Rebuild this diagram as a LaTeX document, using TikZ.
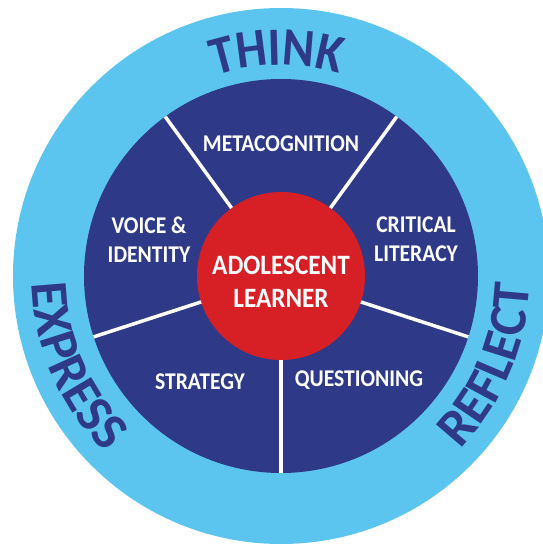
\documentclass[tikz,border=0pt]{standalone}
\usepackage{fontspec}
\setmainfont{Carlito}
\newfontfamily\condfont{Carlito}[FakeStretch=0.9]
\usetikzlibrary{decorations.text}
\definecolor{ringblue}{HTML}{5BC5F0}
\definecolor{navy}{HTML}{2E3A87}
\definecolor{redcore}{HTML}{D71F26}
\newcommand\thinkfont{\condfont\bfseries\fontsize{54}{54}\selectfont}
\newcommand\sidewordfont{\bfseries\fontsize{53}{53}\selectfont}
\begin{document}
\begin{tikzpicture}[x=1pt,y=1pt,
  disc/.style={circle,inner sep=0pt,outer sep=0pt,draw=none},
  spoke/.style={draw=white,line width=3.5pt},
  topic/.style={text=white,align=center,inner sep=0pt,
    font=\condfont\bfseries\fontsize{24}{29}\selectfont},
  hub/.style={text=white,align=center,inner sep=0pt,
    font=\condfont\bfseries\fontsize{28}{33}\selectfont},
  ringword/.style={decorate,decoration={text along path,text align=center,text color=navy}}]
\useasboundingbox (-281,-270) rectangle (261,276);
% discs
\node[disc,fill=ringblue,minimum size=536pt] (ring) at (0,0) {};
\node[disc,fill=navy,minimum size=394pt] (wheel) at (0,0) {};
\node[disc,fill=redcore,minimum size=168pt] (core) at (0,0) {};
% spokes
\foreach \a in {270,342,54,126,198}
  \draw[spoke] (core.\a) -- (wheel.\a);
% labels
\node[hub] (learner) at (0,-6) {ADOLESCENT\\LEARNER};
\node[topic] (meta) at (0,132) {METACOGNITION};
\node[topic] (voice) at (-132,36.5) {VOICE \&\\IDENTITY};
\node[topic] (critical) at (135,36.5) {CRITICAL\\LITERACY};
\node[topic] (strategy) at (-81,-105.5) {STRATEGY};
\node[topic] (questioning) at (78,-104.5) {QUESTIONING};
% ring words
\path[ringword,decoration={text={|\thinkfont|THINK}}]
  (141:211) arc[start angle=141,end angle=41,radius=211];
\path[ringword,decoration={text={|\sidewordfont|EXPRESS}}]
  (153.5:249) arc[start angle=153.5,end angle=253.5,radius=249];
\path[ringword,decoration={text={|\sidewordfont|REFLECT}}]
  (-73:249) arc[start angle=-73,end angle=27,radius=249];
\end{tikzpicture}
\end{document}
